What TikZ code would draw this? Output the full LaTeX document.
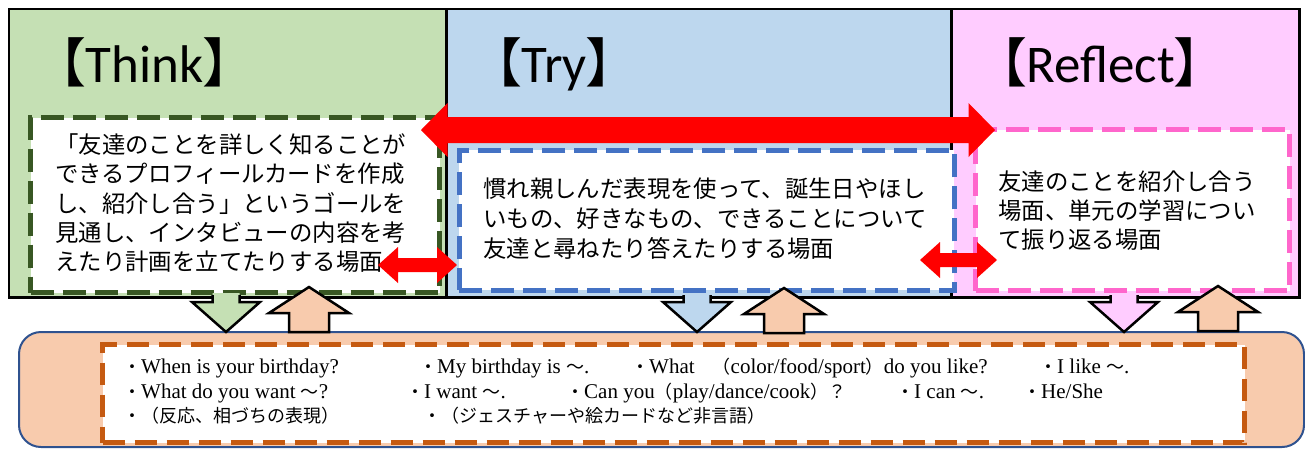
\documentclass[tikz,border=0pt]{standalone}
\usepackage{fontspec}
\usetikzlibrary{calc}
\setmainfont{Liberation Serif}
\newfontfamily\jp{Noto Sans CJK JP}
\newfontfamily\jpp[RawFeature=+palt]{Noto Sans CJK JP}
\newfontfamily\calfont{Carlito}
\newfontfamily\serfont{Liberation Serif}
\definecolor{thinkfill}{HTML}{C5E0B4}
\definecolor{tryfill}{HTML}{BDD7EE}
\definecolor{reflfill}{HTML}{FFCCFF}
\definecolor{thinkdash}{HTML}{385723}
\definecolor{trydash}{HTML}{4472C4}
\definecolor{refldash}{HTML}{FF66CC}
\definecolor{peach}{HTML}{F8CBAD}
\definecolor{orangedash}{HTML}{C55A11}
\definecolor{roundborder}{HTML}{2F528F}
\newcommand{\dotj}{{\jp\fontsize{18}{20}\selectfont ・}}
\newcommand{\jtxt}[1]{{\jp\fontsize{18}{20}\selectfont #1}}
% double block arrow: #1 left tip, #2 right tip, #3 head length, #4 half head, #5 half shaft
\newcommand{\dblarr}[5]{%
  \fill[red] (#1) -- ++(#3,-#4) -- ++(0,#4-#5) -- ($(#2)+(-#3,-#5)$) -- ++(0,-#4+#5) -- (#2)
    -- ++(-#3,#4) -- ++(0,-#4+#5) -- ($(#1)+(#3,#5)$) -- ++(0,#4-#5) -- cycle;}
% down block arrow from a box: #1 tip, #2 colour
\newcommand{\dnarr}[2]{%
  \fill[#2] (#1) -- ++(-34,-30) -- ++(20.5,0) -- ++(0,-9) -- ++(27,0) -- ++(0,9) -- ++(20.5,0) -- cycle;
  \draw[blockline] ($(#1)+(-13.5,-37)$) -- ++(0,7) -- ++(-20.5,0) -- (#1) -- ++(34,-30) -- ++(-20.5,0) -- ++(0,-7);}
% up block arrow: #1 tip
\newcommand{\uparr}[1]{%
  \filldraw[blockline, fill=peach] (#1) -- ++(40,26) -- ++(-20,0) -- ++(0,19) -- ++(-40,0) -- ++(0,-19) -- ++(-20,0) -- cycle;}
\tikzset{
  panel/.style={draw=black, line width=2.5pt, anchor=north west, inner sep=0pt},
  inbox/.style={fill=white, line width=5pt, dash pattern=on 23pt off 9pt, anchor=north west, inner sep=0pt},
  para/.style={anchor=north west, inner sep=0pt, align=left},
  title/.style={anchor=base west, inner sep=0pt, font=\fontsize{53}{60}\selectfont},
  item/.style={anchor=base west, inner sep=0pt, font=\serfont\fontsize{21}{24}\selectfont},
  blockline/.style={draw=black, line width=2.5pt, line join=miter},
}
\begin{document}
\begin{tikzpicture}[x=1pt,y=-1pt]
\useasboundingbox (0,0) rectangle (1305,448);
% panels
\node[panel, fill=thinkfill, minimum width=437.5pt, minimum height=288.5pt] (think) at (7.5,7.5) {};
\node[panel, fill=tryfill, minimum width=505pt, minimum height=288.5pt] (try) at (445,7.5) {};
\node[panel, fill=reflfill, minimum width=348pt, minimum height=288.5pt] (refl) at (950,7.5) {};
% titles
\node[title] (tthink) at (59,82) {{\jpp 【}{\calfont Think}{\jpp 】}};
\node[title] (ttry) at (495,82) {{\jpp 【}{\calfont Try}{\jpp 】}};
\node[title] (trefl) at (1000,82) {{\jpp 【}{\calfont Reflect}{\jpp 】}};
% inner dashed boxes
\node[inbox, draw=thinkdash, minimum width=409pt, minimum height=175pt] (thinkin) at (28,115) {};
\node[inbox, draw=trydash, line width=4.5pt, minimum width=495pt, minimum height=140pt] (tryin) at (457,148) {};
\node[inbox, draw=refldash, minimum width=314pt, minimum height=161pt] (reflin) at (973,127) {};
% paragraphs
\node[para, font=\jp\fontsize{23.4}{29.25}\selectfont] (pthink) at (55,133.5) {「友達のことを詳しく知ることが\\できるプロフィールカードを作成\\し、紹介し合う」というゴールを\\見通し、インタビューの内容を考\\えたり計画を立てたりする場面};
\node[para, font=\jp\fontsize{23.4}{30}\selectfont] (ptry) at (483,178) {慣れ親しんだ表現を使って、誕生日やほし\\いもの、好きなもの、できることについて\\友達と尋ねたり答えたりする場面};
\node[para, font=\jp\fontsize{23.4}{29}\selectfont] (prefl) at (998,170.5) {友達のことを紹介し合う\\場面、単元の学習につい\\て振り返る場面};
% red double arrows
\coordinate (bigL) at (421,130);
\coordinate (bigR) at (995,130);
\coordinate (s1L) at (378,265);
\coordinate (s1R) at (457,265);
\coordinate (s2L) at (920,260);
\coordinate (s2R) at (997,260);
\dblarr{bigL}{bigR}{26.5}{27}{13}
\dblarr{s1L}{s1R}{20}{18}{7}
\dblarr{s2L}{s2R}{20}{18}{7}
% bottom box
\node[draw=roundborder, line width=2pt, fill=peach, rounded corners=22pt, anchor=north west, inner sep=0pt, minimum width=1285pt, minimum height=115pt] (base) at (18,331) {};
\node[draw=orangedash, fill=white, line width=5pt, dash pattern=on 22pt off 10pt, anchor=north west, inner sep=0pt, minimum width=1142pt, minimum height=98pt] (basein) at (100,342) {};
% block arrows
\coordinate (d1) at (226,332);
\coordinate (d2) at (697,332);
\coordinate (d3) at (1124,332);
\coordinate (u1) at (309,287);
\coordinate (u2) at (784,288);
\coordinate (u3) at (1218,286);
\dnarr{d1}{thinkfill}
\dnarr{d2}{tryfill}
\dnarr{d3}{reflfill}
\uparr{u1}
\uparr{u2}
\uparr{u3}
% expressions
\node[item] (e11) at (123,373) {\dotj When is your birthday?};
\node[item] (e12) at (419,373) {\dotj My birthday is \jtxt{～}.};
\node[item] (e13) at (631,373) {\dotj What\jtxt{　（}color/food/sport\jtxt{）}do you like?};
\node[item] (e14) at (1039,373) {\dotj I like \jtxt{～}.};
\node[item] (e21) at (123,398) {\dotj What do you want \jtxt{～}?};
\node[item] (e22) at (406,398) {\dotj I want \jtxt{～}.};
\node[item] (e23) at (566,398) {\dotj Can you\jtxt{（}play/dance/cook\jtxt{）？}};
\node[item] (e24) at (896,398) {\dotj I can \jtxt{～}.};
\node[item] (e25) at (1023,398) {\dotj He/She};
\node[item] (e31) at (123,422) {\jtxt{・（反応、相づちの表現）}};
\node[item] (e32) at (423,422) {\jtxt{・（ジェスチャーや絵カードなど非言語）}};
\end{tikzpicture}
\end{document}
